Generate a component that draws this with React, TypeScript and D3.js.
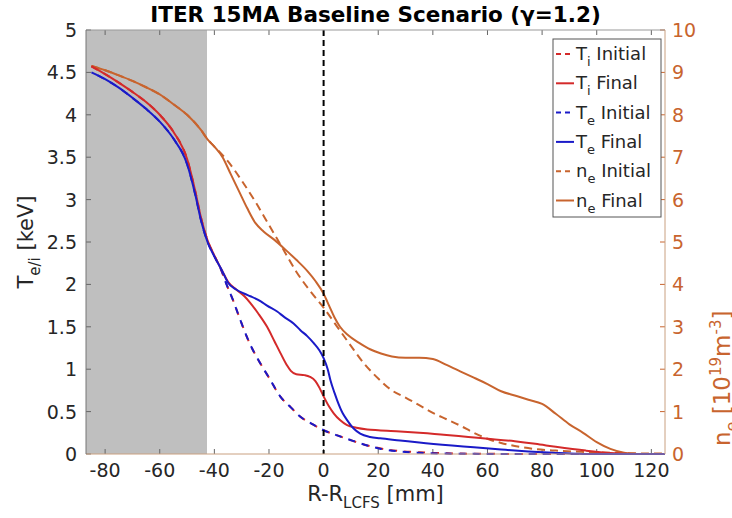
import React from "react";
import * as d3 from "d3";

const W = 732;
const H = 518;
const M = { left: 86, right: 67, top: 30, bottom: 64 };

const title = "ITER 15MA Baseline Scenario (\u03b3=1.2)";
const xTicks = [-80, -60, -40, -20, 0, 20, 40, 60, 80, 100, 120];
const yLeftTicks = [0, 0.5, 1, 1.5, 2, 2.5, 3, 3.5, 4, 4.5, 5];
const yLeftLabels = ["0", "0.5", "1", "1.5", "2", "2.5", "3", "3.5", "4", "4.5", "5"];
const yRightTicks = [0, 1, 2, 3, 4, 5, 6, 7, 8, 9, 10];
const shadeRange = [-87, -42.7];

// T_i initial [mm, keV]
const tiInitial: [number, number][] = [
  [-85, 4.57], [-80, 4.48], [-75, 4.38], [-70, 4.27], [-65, 4.15], [-60, 4.0], [-55, 3.8],
  [-50, 3.48], [-47, 3.1], [-45, 2.8], [-42.5, 2.52], [-40, 2.34], [-37, 2.13], [-35.9, 2.03],
  [-33, 1.8], [-30.5, 1.58], [-27, 1.3], [-23.2, 1.07], [-20, 0.9], [-15.9, 0.68], [-12, 0.55],
  [-8.5, 0.44], [-4, 0.35], [0, 0.28], [5, 0.22], [9.8, 0.165], [15, 0.11], [21, 0.065],
  [28, 0.035], [35, 0.02], [45, 0.008], [60, 0.002], [80, 0], [125, 0],
];
// T_i final
const tiFinal: [number, number][] = [
  [-85, 4.57], [-80, 4.48], [-75, 4.38], [-70, 4.27], [-65, 4.15], [-60, 4.0], [-55, 3.8],
  [-50, 3.48], [-47, 3.1], [-45, 2.8], [-42.5, 2.52], [-40, 2.34], [-37, 2.15], [-35, 2.03],
  [-32, 1.94], [-29, 1.86], [-26.8, 1.78], [-24, 1.66], [-20.7, 1.5], [-18, 1.33], [-15.8, 1.19],
  [-13.5, 1.05], [-12, 0.98], [-10, 0.94], [-7, 0.93], [-5, 0.91], [-3, 0.86], [-1.5, 0.78],
  [0, 0.68], [2, 0.56], [3.7, 0.48], [6, 0.4], [8.6, 0.34], [12, 0.31], [16, 0.29], [20, 0.28],
  [28, 0.265], [35, 0.25], [45, 0.225], [53, 0.2], [60, 0.18], [70, 0.15], [77.5, 0.12],
  [85, 0.085], [96, 0.04], [105, 0.012], [115, 0], [125, 0],
];
// T_e initial
const teInitial: [number, number][] = [
  [-85, 4.5], [-80, 4.42], [-75, 4.32], [-70, 4.2], [-65, 4.07], [-60, 3.92], [-55, 3.72],
  [-50, 3.42], [-47, 3.06], [-45, 2.77], [-42.5, 2.5], [-40, 2.33], [-37, 2.13], [-35.9, 2.03],
  [-33, 1.8], [-30.5, 1.58], [-27, 1.3], [-23.2, 1.07], [-20, 0.9], [-15.9, 0.68], [-12, 0.55],
  [-8.5, 0.44], [-4, 0.35], [0, 0.28], [5, 0.22], [9.8, 0.165], [15, 0.11], [21, 0.06],
  [28, 0.03], [35, 0.015], [45, 0.005], [60, 0.001], [80, 0], [125, 0],
];
// T_e final
const teFinal: [number, number][] = [
  [-85, 4.5], [-80, 4.42], [-75, 4.32], [-70, 4.2], [-65, 4.07], [-60, 3.92], [-55, 3.72],
  [-50, 3.42], [-47, 3.06], [-45, 2.77], [-42.5, 2.5], [-40, 2.33], [-37, 2.15], [-35, 2.02],
  [-32, 1.94], [-29, 1.89], [-26.8, 1.86], [-23, 1.8], [-20.7, 1.75], [-17, 1.68], [-14.6, 1.62],
  [-11, 1.54], [-8.5, 1.46], [-6, 1.39], [-3.7, 1.31], [-1.5, 1.22], [0, 1.13], [1.5, 1.0],
  [2.5, 0.87], [4, 0.72], [5, 0.63], [7, 0.48], [8.6, 0.4], [11, 0.3], [13.4, 0.24], [17, 0.2],
  [20.7, 0.185], [28, 0.16], [35, 0.135], [47, 0.1], [55, 0.08], [65, 0.052], [75, 0.03],
  [84, 0.016], [90, 0.006], [100, 0], [125, 0],
];
// n_e initial [1e19 m^-3]
const neInitial: [number, number][] = [
  [-85, 9.15], [-80, 9.05], [-75, 8.93], [-70, 8.8], [-65, 8.65], [-60, 8.48], [-55, 8.25],
  [-50, 8.0], [-45, 7.65], [-42.5, 7.42], [-40, 7.25], [-35, 6.9], [-30, 6.45], [-25, 5.95],
  [-20, 5.4], [-15, 4.85], [-10, 4.3], [-5, 3.85], [0, 3.45], [5, 3.0], [10, 2.55], [15, 2.12],
  [20, 1.78], [25, 1.5], [30, 1.33], [35, 1.15], [40, 0.97], [45, 0.82], [50, 0.67], [55, 0.5],
  [60, 0.36], [65, 0.26], [70, 0.19], [77, 0.12], [85, 0.08], [95, 0.05], [105, 0.03],
  [115, 0.015], [125, 0.01],
];
// n_e final
const neFinal: [number, number][] = [
  [-85, 9.15], [-80, 9.05], [-75, 8.93], [-70, 8.8], [-65, 8.65], [-60, 8.48], [-55, 8.25],
  [-50, 8.0], [-45, 7.65], [-42.5, 7.42], [-40, 7.25], [-37, 7.0], [-34, 6.6], [-31, 6.2],
  [-28, 5.8], [-25, 5.45], [-22, 5.25], [-18, 5.05], [-14, 4.82], [-10, 4.58], [-6, 4.32],
  [-3, 4.08], [0, 3.78], [2, 3.5], [4, 3.22], [6, 3.0], [9, 2.8], [13, 2.62], [17, 2.47],
  [21, 2.37], [25, 2.3], [30, 2.27], [35, 2.27], [40, 2.24], [45, 2.1], [50, 1.95], [55, 1.8],
  [60, 1.65], [65, 1.48], [70, 1.38], [75, 1.28], [80, 1.18], [85, 0.95], [90, 0.7], [95, 0.5],
  [100, 0.28], [105, 0.12], [110, 0.03], [115, 0], [125, 0],
];

const RED = "#d42a2a";
const BLUE = "#1a1ac8";
const ORANGE = "#c8642e";
const TEXT = "#262626";
const FONT = "'DejaVu Sans', 'Open Sans', sans-serif";

export default function App() {
  const pw = W - M.left - M.right;
  const ph = H - M.top - M.bottom;
  const x = d3.scaleLinear().domain([-87, 125]).range([M.left, M.left + pw]);
  const yL = d3.scaleLinear().domain([0, 5]).range([M.top + ph, M.top]);
  const yR = d3.scaleLinear().domain([0, 10]).range([M.top + ph, M.top]);

  const lineL = d3.line<[number, number]>().x((d) => x(d[0])).y((d) => yL(d[1])).curve(d3.curveMonotoneX);
  const lineR = d3.line<[number, number]>().x((d) => x(d[0])).y((d) => yR(d[1])).curve(d3.curveMonotoneX);

  const x0 = M.left, x1 = M.left + pw, y0 = M.top, y1 = M.top + ph;

  const legendItems = [
    { color: RED, dash: "5 4", sub: "i", base: "T", label: " Initial" },
    { color: RED, dash: "", sub: "i", base: "T", label: " Final" },
    { color: BLUE, dash: "5 4", sub: "e", base: "T", label: " Initial" },
    { color: BLUE, dash: "", sub: "e", base: "T", label: " Final" },
    { color: ORANGE, dash: "5 4", sub: "e", base: "n", label: " Initial" },
    { color: ORANGE, dash: "", sub: "e", base: "n", label: " Final" },
  ];
  const lgX = 553, lgY = 39, lgW = 108, lgH = 178, lgRow = 29.3;

  return (
    <svg width={W} height={H} style={{ display: "block", position: "absolute", left: 0, top: 0 }} fontFamily={FONT}>
      <rect x={0} y={0} width={W} height={H} fill="#fff" />
      {/* shaded region */}
      <rect x={x(shadeRange[0])} y={y0} width={x(shadeRange[1]) - x(shadeRange[0])} height={ph} fill="#bfbfbf" />

      {/* ticks */}
      {xTicks.map((t) => (
        <g key={"xt" + t}>
          <line x1={x(t)} x2={x(t)} y1={y1} y2={y1 - 5} stroke="#666" strokeWidth={1} />
          <line x1={x(t)} x2={x(t)} y1={y0} y2={y0 + 5} stroke="#666" strokeWidth={1} />
          <text x={x(t)} y={y1 + 23} textAnchor="middle" fontSize={19} fill={TEXT}>{t}</text>
        </g>
      ))}
      {yLeftTicks.map((t, i) => (
        <g key={"yl" + t}>
          <line x1={x0} x2={x0 + 5} y1={yL(t)} y2={yL(t)} stroke="#666" strokeWidth={1} />
          <text x={x0 - 9} y={yL(t) + 7} textAnchor="end" fontSize={19} fill={TEXT}>{yLeftLabels[i]}</text>
        </g>
      ))}
      {yRightTicks.map((t) => (
        <g key={"yr" + t}>
          <line x1={x1} x2={x1 - 5} y1={yR(t)} y2={yR(t)} stroke={ORANGE} strokeWidth={1} />
          <text x={x1 + 7} y={yR(t) + 7} textAnchor="start" fontSize={19} fill={ORANGE}>{t}</text>
        </g>
      ))}

      {/* curves */}
      <path d={lineR(neInitial) || ""} fill="none" stroke={ORANGE} strokeWidth={2} strokeDasharray="8 5" />
      <path d={lineR(neFinal) || ""} fill="none" stroke={ORANGE} strokeWidth={2} />
      <path d={lineL(tiInitial) || ""} fill="none" stroke={RED} strokeWidth={2} strokeDasharray="7 7" />
      <path d={lineL(teInitial) || ""} fill="none" stroke={BLUE} strokeWidth={2} strokeDasharray="7 7" strokeDashoffset={7} />
      <path d={lineL(tiFinal) || ""} fill="none" stroke={RED} strokeWidth={2} />
      <path d={lineL(teFinal) || ""} fill="none" stroke={BLUE} strokeWidth={2} />

      {/* LCFS line */}
      <line x1={x(0)} x2={x(0)} y1={y0} y2={y1} stroke="#000" strokeWidth={2} strokeDasharray="6 4" />

      {/* axes frame */}
      <line x1={x0} x2={x1} y1={y0} y2={y0} stroke="#999" strokeWidth={1} />
      <line x1={x0} x2={x1} y1={y1} y2={y1} stroke="#c9a080" strokeWidth={1} />
      <line x1={x0} x2={x0} y1={y0} y2={y1} stroke="#777" strokeWidth={1} />
      <line x1={x1} x2={x1} y1={y0} y2={y1} stroke="#c9a080" strokeWidth={1} />

      {/* legend */}
      <rect x={lgX} y={lgY} width={lgW} height={lgH} fill="#fff" stroke="#555" strokeWidth={1} />
      {legendItems.map((it, i) => {
        const cy = lgY + 15 + i * lgRow;
        return (
          <g key={"lg" + i}>
            <line x1={lgX + 3} x2={lgX + 21} y1={cy} y2={cy} stroke={it.color} strokeWidth={2} strokeDasharray={it.dash || undefined} />
            <text x={lgX + 23} y={cy + 6} fontSize={18} fill={TEXT}>
              {it.base}
              <tspan fontSize={13} dy={6}>{it.sub}</tspan>
              <tspan dy={-6}>{it.label}</tspan>
            </text>
          </g>
        );
      })}

      {/* title */}
      <text x={(x0 + x1) / 2} y={22} textAnchor="middle" fontSize={21.5} fontWeight="bold" fill="#000">{title}</text>

      {/* x label */}
      <text x={(x0 + x1) / 2} y={H - 17} textAnchor="middle" fontSize={21} fill={TEXT}>
        R-R<tspan fontSize={15} dy={7}>LCFS</tspan><tspan dy={-7}> [mm]</tspan>
      </text>

      {/* left y label */}
      <text transform={`translate(33, ${(y0 + y1) / 2}) rotate(-90)`} textAnchor="middle" fontSize={21} fill={TEXT}>
        T<tspan fontSize={15} dy={7}>e/i</tspan><tspan dy={-7}> [keV]</tspan>
      </text>

      {/* right y label */}
      <text transform={`translate(730, 446) rotate(-90)`} textAnchor="start" fontSize={23} fill={ORANGE}>
        n<tspan fontSize={16} dy={7}>e</tspan><tspan dy={-7}> [10</tspan><tspan fontSize={15} dy={-9}>19</tspan><tspan dy={9}>m</tspan><tspan fontSize={15} dy={-9}>-3</tspan><tspan dy={9}>]</tspan>
      </text>
    </svg>
  );
}
